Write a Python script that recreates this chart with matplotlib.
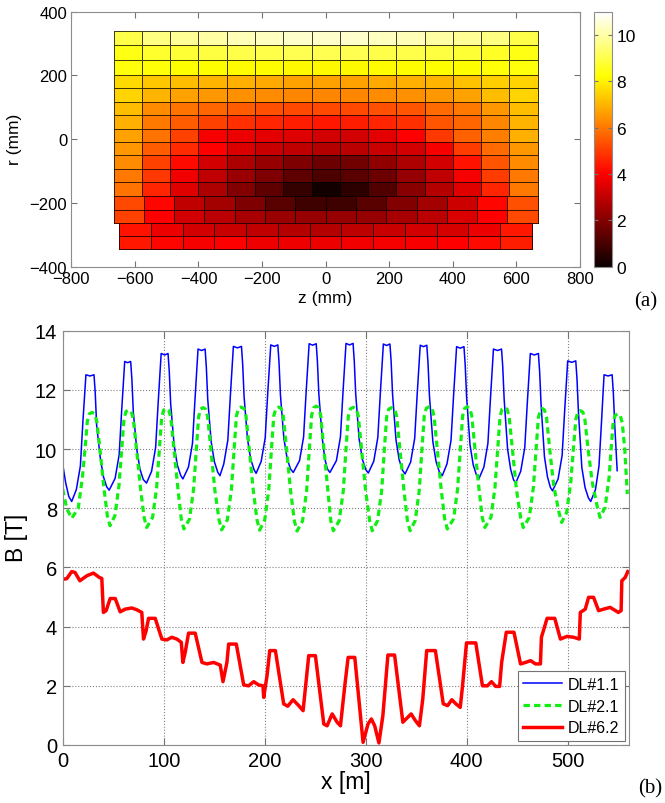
import numpy as np
import matplotlib
matplotlib.use("Agg")
import matplotlib.pyplot as plt
from matplotlib.colors import Normalize
from matplotlib.cm import ScalarMappable

plt.rcParams['font.family'] = ['Liberation Sans', 'DejaVu Sans']
plt.rcParams['axes.unicode_minus'] = True

# ---- (a) field map, three coil blocks (z, r in mm; B in T)
z_up = np.linspace(-667, 667, 16)
r_up = [341, 294, 247, 202, 160, 117, 75, 33, -9, -51, -93, -135, -177]
B_up = [
    [9.0, 9.6, 9.8, 10.0, 10.2, 10.3, 10.4, 10.4, 10.4, 10.3, 10.2, 10.0, 9.8, 9.6, 9.0],
    [8.4, 8.7, 8.8, 8.9, 9.0, 9.0, 9.1, 9.1, 9.1, 9.0, 9.0, 8.9, 8.8, 8.6, 8.4],
    [8.3, 8.25, 8.2, 8.2, 8.15, 8.15, 8.1, 8.1, 8.1, 8.15, 8.15, 8.2, 8.2, 8.25, 8.3],
    [7.6, 7.3, 7.1, 7.0, 6.9, 6.8, 6.7, 6.7, 6.7, 6.8, 6.9, 7.0, 7.2, 7.4, 7.5],
    [7.5, 7.0, 6.7, 6.5, 6.4, 6.3, 6.2, 6.2, 6.2, 6.3, 6.4, 6.5, 6.7, 7.1, 7.5],
    [7.1, 6.3, 5.9, 5.7, 5.5, 5.3, 5.2, 5.2, 5.2, 5.3, 5.4, 5.8, 6.0, 6.5, 7.1],
    [6.9, 6.0, 5.5, 5.1, 4.8, 4.6, 4.5, 4.4, 4.5, 4.6, 4.8, 5.4, 5.7, 6.2, 7.0],
    [6.7, 5.9, 5.1, 3.9, 3.7, 3.6, 3.5, 3.3, 3.3, 3.6, 4.0, 4.9, 5.6, 6.1, 6.9],
    [6.5, 5.5, 4.7, 4.0, 3.4, 3.1, 3.0, 2.8, 2.9, 3.1, 3.3, 3.9, 5.0, 5.8, 6.5],
    [6.3, 5.1, 4.2, 3.3, 2.7, 2.3, 1.9, 1.6, 1.7, 2.2, 2.7, 3.3, 4.3, 5.4, 6.3],
    [6.0, 4.9, 3.8, 3.0, 2.4, 1.9, 1.4, 1.1, 1.3, 1.6, 2.3, 3.0, 3.9, 5.0, 6.0],
    [5.9, 4.6, 3.5, 2.7, 2.0, 1.4, 0.7, 0.15, 0.6, 1.2, 2.1, 2.8, 3.5, 4.6, 6.0],
]

z_mid = np.linspace(-667, 667, 15)
r_mid = [-177, -221, -263]
B_mid = [
    [5.2, 4.1, 3.0, 2.5, 1.9, 1.3, 0.9, 0.9, 1.3, 2.0, 2.5, 3.2, 4.1, 5.3],
    [5.1, 4.0, 3.3, 2.9, 2.6, 2.4, 2.3, 2.3, 2.3, 2.6, 2.9, 3.4, 4.0, 5.2],
]

z_low = np.linspace(-649, 648, 14)
r_low = [-263, -305, -345]
B_low = [
    [4.3, 3.7, 3.3, 3.1, 3.0, 2.8, 2.75, 2.95, 3.1, 3.3, 3.35, 3.7, 4.4],
    [4.4, 4.1, 3.9, 4.0, 3.75, 3.75, 3.7, 3.8, 3.9, 3.95, 4.0, 4.2, 4.5],
]

# ---- (b) field along the lines (x in m, B in T)
dl11_x = [0, 3, 6, 8.9,
          13.5, 17.5, 20, 23, 27, 31, 32.2, 33.6, 37, 40.2, 43.5, 46,
          51.9, 55.9, 58.4, 61.4, 64.3, 67.3, 68.5, 69.9, 73.3, 76.5, 79.8, 83,
          88, 92, 94.5, 97.5, 101, 104.3, 105.5, 106.9, 110.3, 113.5, 116.8, 119,
          124.5, 128.5, 131, 134, 137.5, 141, 142.2, 143.6, 147, 150.2, 153.5, 155.7,
          159.5, 163.5, 166, 169, 173, 177, 178.2, 179.6, 183, 186.2, 189.5, 191.5,
          196.5, 200.5, 203, 206, 209.5, 213, 214.2, 215.6, 219, 222.2, 225.5, 228.3,
          234.5, 238.5, 241, 244, 247.5, 251, 252.2, 253.6, 257, 259.5, 262, 264.6,
          271, 275, 277.5, 280.5, 284, 287.5, 288.7, 290.1, 293.5, 296.7, 300, 302.6,
          308, 312, 314.5, 317.5, 320.7, 324, 325.2, 326.6, 330, 333.2, 336.5, 339,
          344.5, 348.5, 351, 354, 357.2, 360.5, 361.7, 363.1, 366.5, 369.7, 373, 375.8,
          380.5, 384.5, 387, 390, 393.6, 397.3, 398.5, 399.9, 403.3, 406.5, 409.8, 412,
          417, 421, 423.5, 426.5, 430.5, 434.5, 435.7, 437.1, 440.5, 443.5, 446.3, 448.5,
          453.5, 457.5, 460, 463, 467, 471, 472.2, 473.6, 477, 480, 482.8, 485,
          490.5, 494.5, 497, 500, 504, 508, 509.2, 510.6, 514, 517.2, 520.5, 522.8,
          527.5, 531, 533.5, 536, 540, 544, 545.2, 546.6, 549]
dl11_B = [9.49, 8.85, 8.40, 8.23,
          8.63, 9.43, 10.93, 12.51, 12.47, 12.51, 11.91, 10.81, 9.76, 9.08, 8.73, 8.61,
          9.01, 9.81, 11.31, 12.96, 12.92, 12.96, 12.36, 11.26, 10.0, 9.32, 8.97, 8.85,
          9.25, 10.05, 11.55, 13.23, 13.18, 13.23, 12.63, 11.53, 10.14, 9.46, 9.11, 8.99,
          9.39, 10.19, 11.69, 13.38, 13.33, 13.38, 12.78, 11.68, 10.25, 9.57, 9.22, 9.10,
          9.50, 10.30, 11.80, 13.47, 13.42, 13.47, 12.87, 11.77, 10.33, 9.65, 9.30, 9.18,
          9.58, 10.38, 11.88, 13.52, 13.47, 13.52, 12.92, 11.82, 10.36, 9.68, 9.33, 9.21,
          9.61, 10.41, 11.91, 13.56, 13.51, 13.56, 12.96, 11.86, 10.36, 9.68, 9.33, 9.21,
          9.61, 10.41, 11.91, 13.57, 13.52, 13.57, 12.97, 11.87, 10.34, 9.66, 9.31, 9.19,
          9.59, 10.39, 11.89, 13.55, 13.50, 13.55, 12.95, 11.85, 10.31, 9.63, 9.28, 9.16,
          9.56, 10.36, 11.86, 13.51, 13.46, 13.51, 12.91, 11.81, 10.25, 9.57, 9.22, 9.10,
          9.50, 10.30, 11.80, 13.46, 13.41, 13.46, 12.86, 11.76, 10.14, 9.46, 9.11, 8.99,
          9.39, 10.19, 11.69, 13.38, 13.33, 13.38, 12.78, 11.68, 10.0, 9.32, 8.97, 8.85,
          9.25, 10.05, 11.55, 13.23, 13.18, 13.23, 12.63, 11.53, 9.74, 9.06, 8.71, 8.59,
          8.99, 9.79, 11.29, 12.98, 12.93, 12.98, 12.38, 11.28, 9.38, 8.70, 8.35, 8.23,
          8.63, 9.43, 10.93, 12.51, 12.47, 12.51, 11.90, 10.80, 9.27]

dl21_x = [0, 4, 8.9,
          15.4, 19.4, 22.1, 24.4, 26.4, 29, 31.7, 33.7, 36.9, 40.9, 44.2, 46.8,
          51.7, 55.7, 58.4, 60.7, 62.7, 65.3, 67.9, 69.9, 73.1, 77.1, 80.6, 83.2,
          89, 93, 95.7, 98, 100, 102.5, 105, 107, 110.2, 114.2, 117.4, 120,
          125.6, 129.6, 132.3, 134.6, 136.6, 139, 141.5, 143.5, 146.7, 150.7, 154.8, 157.4,
          163, 167, 169.7, 172, 174, 176.7, 179.5, 181.5, 184.7, 188.7, 192.4, 195,
          200, 204, 206.7, 209, 211, 213.7, 216.4, 218.4, 221.6, 225.6, 229.4, 232,
          237.5, 241.5, 244.2, 246.5, 248.5, 251, 253.4, 255.4, 258.6, 262.6, 265.4, 268,
          273.8, 277.8, 280.5, 282.8, 284.8, 287.7, 290.7, 292.7, 295.9, 299.9, 303.9, 306.5,
          311.8, 315.8, 318.5, 320.8, 322.8, 325.7, 328.7, 330.7, 333.9, 337.9, 341.3, 343.9,
          349, 353, 355.7, 358, 360, 362.8, 365.6, 367.6, 370.8, 374.8, 378.2, 380.8,
          387, 391, 393.7, 396, 398, 400.5, 403, 405, 408.2, 412.2, 415.4, 418,
          424, 428, 430.7, 433, 435, 437.5, 440, 442, 445.2, 449.2, 453.4, 456,
          462, 466, 468.7, 471, 473, 475, 477, 479, 482.2, 486.2, 491.4, 494,
          499, 503, 505.7, 508, 510, 512.5, 515, 517, 520.2, 524.2, 529.4, 532,
          537, 541, 543, 545, 547, 549.5, 552, 554, 556.5, 559]
dl21_B = [8.65, 7.99, 7.66,
          8.0, 9.01, 10.0, 10.94, 11.19, 11.24, 11.19, 10.94, 10.0, 8.65, 7.75, 7.41,
          7.75, 8.76, 10.0, 11.02, 11.27, 11.32, 11.27, 11.02, 10.0, 8.65, 7.69, 7.35,
          7.69, 8.70, 10.0, 11.07, 11.32, 11.37, 11.32, 11.07, 10.0, 8.62, 7.64, 7.30,
          7.64, 8.65, 10.0, 11.10, 11.35, 11.40, 11.35, 11.10, 10.0, 8.60, 7.61, 7.27,
          7.61, 8.62, 10.0, 11.12, 11.37, 11.42, 11.37, 11.12, 10.0, 8.60, 7.60, 7.26,
          7.60, 8.61, 10.0, 11.12, 11.37, 11.42, 11.37, 11.12, 10.0, 8.60, 7.57, 7.23,
          7.57, 8.58, 10.0, 11.15, 11.40, 11.45, 11.40, 11.15, 10.0, 8.60, 7.58, 7.24,
          7.58, 8.59, 10.0, 11.11, 11.36, 11.41, 11.36, 11.11, 10.0, 8.60, 7.58, 7.24,
          7.58, 8.59, 10.0, 11.10, 11.35, 11.40, 11.35, 11.10, 10.0, 8.60, 7.58, 7.24,
          7.58, 8.59, 10.0, 11.13, 11.38, 11.43, 11.38, 11.13, 10.0, 8.62, 7.64, 7.30,
          7.64, 8.65, 10.0, 11.13, 11.38, 11.43, 11.38, 11.13, 10.0, 8.65, 7.69, 7.35,
          7.69, 8.70, 10.0, 11.10, 11.35, 11.40, 11.35, 11.10, 10.0, 8.65, 7.69, 7.35,
          7.69, 8.70, 10.0, 11.07, 11.32, 11.37, 11.32, 11.07, 10.0, 8.75, 7.86, 7.52,
          7.86, 8.87, 10.0, 11.00, 11.25, 11.30, 11.25, 11.00, 10.0, 8.90, 8.03, 7.69,
          8.03, 9.04, 10.0, 10.89, 11.14, 11.19, 11.14, 10.89, 10.0, 8.48]

dl62_x = [0, 4, 8.9, 12.2, 17, 24, 30.4, 36.4, 38.7, 40.3, 43, 47, 52, 56.9, 61.8,
          68.4, 73.4, 78.3, 80, 82.6, 85, 91.6, 98.2, 103, 108, 113, 117.4, 119, 121.3,
          124.6, 131.2, 137.9, 142.8, 149.4, 156, 158.7, 162.6, 164.3, 171.9, 179.2,
          184.1, 189.1, 194, 198.3, 199, 202.3, 205, 210.6, 218.8, 222.8, 228.1, 233.7,
          238, 243.6, 250.2, 258.5, 261.8, 266.8, 271.7, 275, 279.3, 282.6, 289.2, 297.4,
          302.3, 305.6, 308.9, 313.1, 317, 322, 328.6, 336.8, 340, 345, 349.3, 353.2,
          356.5, 360.4, 369, 376.8, 381.1, 385.3, 389.3, 393.6, 395.9, 399.8, 409, 415.6,
          420.5, 424.5, 428.7, 432.6, 434.6, 439.2, 446.8, 453.3, 458.3, 463.2, 468.1,
          473, 474, 479.6, 487.2, 492.8, 499.3, 505.9, 511.5, 512.5, 517.4, 520.7, 525.6,
          530.6, 535.5, 542, 550.2, 552.9, 553.6, 556.9, 559.5]
dl62_B = [5.60, 5.62, 5.86, 5.83, 5.55, 5.72, 5.81, 5.66, 5.63, 4.48, 4.54, 4.95, 4.95,
          4.50, 4.59, 4.63, 4.57, 4.48, 3.58, 3.86, 4.28, 4.28, 3.58, 3.55, 3.64, 3.58,
          3.47, 2.79, 3.13, 3.78, 3.78, 2.79, 2.74, 2.79, 2.70, 2.14, 2.79, 3.41, 3.41,
          2.03, 2.00, 2.14, 2.03, 2.00, 1.61, 2.34, 3.19, 3.19, 1.39, 1.31, 1.53, 1.33,
          1.16, 3.02, 3.02, 0.71, 0.65, 1.05, 0.77, 0.65, 2.00, 2.96, 2.96, 0.09, 0.71,
          0.88, 0.65, 0.07, 0.99, 3.04, 3.04, 0.77, 0.88, 1.05, 0.82, 0.65, 1.55, 3.19,
          3.19, 1.39, 1.33, 1.53, 1.39, 1.27, 2.00, 3.45, 3.45, 2.00, 2.00, 2.14, 1.98,
          1.98, 2.79, 3.81, 3.81, 2.74, 2.79, 2.85, 2.74, 2.74, 3.64, 4.28, 4.28, 3.58,
          3.67, 3.64, 3.58, 4.48, 4.59, 4.99, 4.99, 4.54, 4.59, 4.65, 4.48, 4.54, 5.55,
          5.66, 5.86]

W, H = 665, 804
fig = plt.figure(figsize=(W / 100, H / 100), dpi=100)


def box(x0, y0, x1, y1):
    # pixel box (top-left origin) -> figure fraction rect
    return [x0 / W, 1 - y1 / H, (x1 - x0) / W, (y1 - y0) / H]


ax1 = fig.add_axes(box(71.3, 12.7, 580, 267.7))
cax = fig.add_axes(box(594, 12.7, 612, 267.7))
ax2 = fig.add_axes(box(62.7, 331.7, 629.3, 746))

norm = Normalize(vmin=0, vmax=11)
cmap = plt.get_cmap('hot')
for zz, rr, bb in [(z_up, r_up, B_up), (z_mid, r_mid, B_mid), (z_low, r_low, B_low)]:
    ax1.pcolormesh(zz, rr, np.array(bb), cmap=cmap, norm=norm,
                   edgecolors=(0, 0, 0, 0.75), linewidth=0.6)

ax1.set_xlim(-800, 800)
ax1.set_ylim(-400, 400)
ax1.set_xticks(np.arange(-800, 801, 200))
ax1.set_yticks(np.arange(-400, 401, 200))
ax1.tick_params(direction='in', top=True, right=True, length=4, labelsize=12,
                color='0.45', pad=3)
for s in ax1.spines.values():
    s.set_color('0.55')
    s.set_linewidth(0.8)

cb = fig.colorbar(ScalarMappable(norm=norm, cmap=cmap), cax=cax, ticks=range(0, 11, 2))
cb.outline.set_edgecolor('0.55')
cb.outline.set_linewidth(0.8)
cax.tick_params(direction='in', left=True, right=True, length=3, labelsize=12.5,
                color='0.45', pad=3)

fig.text(325.6 / W, 1 - 299 / H, 'z (mm)', ha='center', va='center', fontsize=12.5)
fig.text(15 / W, 1 - 139 / H, 'r (mm)', ha='center', va='center', fontsize=12.5,
         rotation=90)
fig.text(646 / W, 1 - 302 / H, '(a)', ha='center', va='center', fontsize=15,
         family='Liberation Serif')

# ---- bottom panel
ax2.plot(dl11_x, dl11_B, color='#0000ff', lw=1.1, label='DL#1.1')
ax2.plot(dl21_x, dl21_B, color='#11ee11', lw=2.3, linestyle=(0, (2.0, 1.3)),
         label='DL#2.1')
ax2.plot(dl62_x, dl62_B, color='#ff0000', lw=2.5, label='DL#6.2')

ax2.set_xlim(0, 561)
ax2.set_ylim(0, 14)
ax2.set_xticks(np.arange(0, 501, 100))
ax2.set_yticks(np.arange(0, 15, 2))
ax2.grid(True, linestyle=':', color='0.5', linewidth=0.8)
ax2.tick_params(direction='in', top=True, right=True, length=5, labelsize=14.5,
                color='0.45', pad=4)
for s in ax2.spines.values():
    s.set_color('0.55')
    s.set_linewidth(0.8)

leg = ax2.legend(loc='lower right', fontsize=11.5, fancybox=False, framealpha=1,
                 edgecolor='0.45', borderaxespad=0.25, handlelength=2.4,
                 borderpad=0.35, labelspacing=0.42, handletextpad=0.4)
leg.get_frame().set_linewidth(0.8)

fig.text(346 / W, 1 - 783 / H, 'x [m]', ha='center', va='center', fontsize=16.5)
fig.text(16 / W, 1 - 538 / H, 'B [T]', ha='center', va='center', fontsize=16.5,
         rotation=90)
fig.text(650 / W, 1 - 789 / H, '(b)', ha='center', va='center', fontsize=15,
         family='Liberation Serif')

fig.savefig('out.png', dpi=100)
